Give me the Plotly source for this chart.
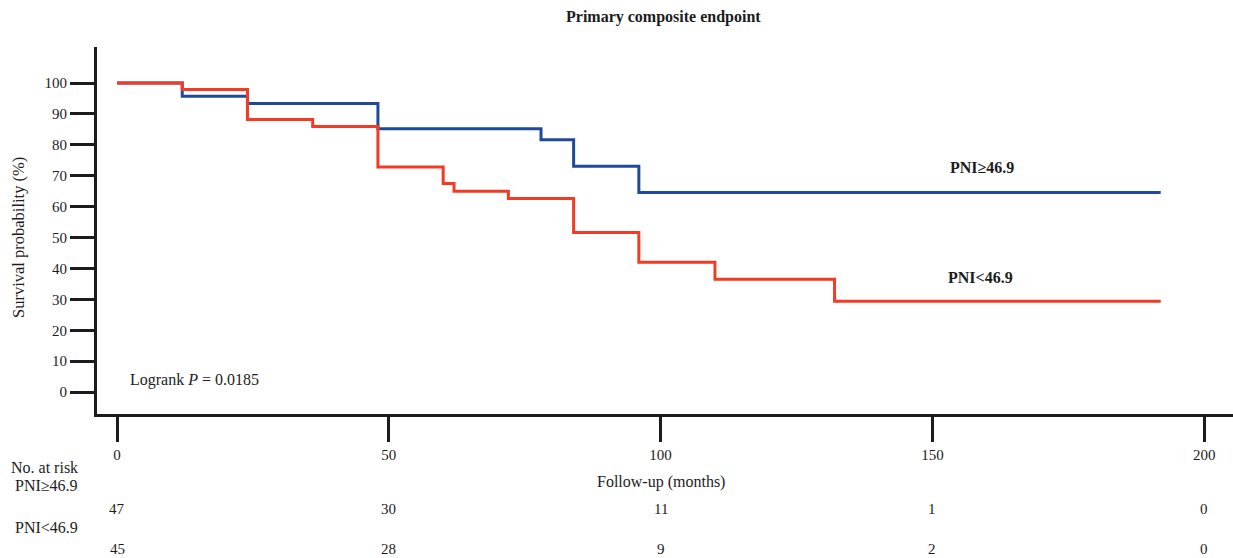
import plotly.graph_objects as go

# Kaplan-Meier step data (months, survival %)
high_t = [0, 12, 24, 48, 78, 84, 96, 192]
high_s = [100, 95.7, 93.4, 85.2, 81.6, 73.1, 64.6, 64.6]
low_t = [0, 12, 24, 36, 48, 60, 62, 72, 84, 96, 110, 132, 192]
low_s = [100, 97.9, 88.2, 85.9, 72.8, 67.5, 65.0, 62.6, 51.6, 42.0, 36.5, 29.4, 29.4]

x_ticks = [0, 50, 100, 150, 200]
y_ticks = [0, 10, 20, 30, 40, 50, 60, 70, 80, 90, 100]
risk_high = [47, 30, 11, 1, 0]
risk_low = [45, 28, 9, 2, 0]
group_labels = ["PNI≥46.9", "PNI<46.9"]

FONT = "Liberation Serif, Times New Roman, serif"
BLUE = "#1f4a9c"
RED = "#f23b24"
DARK = "#1c1c1c"

fig = go.Figure()
fig.add_trace(go.Scatter(x=high_t, y=high_s, mode="lines", line_shape="hv",
                         line=dict(color=BLUE, width=3), name=group_labels[0],
                         showlegend=False))
fig.add_trace(go.Scatter(x=low_t, y=low_s, mode="lines", line_shape="hv",
                         line=dict(color=RED, width=3), name=group_labels[1],
                         showlegend=False))

W, H = 1233, 558
L, R, T, B = 97, 0, 47, 144
plot_h = H - T - B

def py(pix):
    return (H - B - pix) / plot_h

def px(pix):
    return (pix - L) / (W - L - R)

TXT = dict(size=16, family=FONT, color=DARK)

ann = []
ann.append(dict(text="<b>Primary composite endpoint</b>", x=px(663), y=py(17),
                xref="paper", yref="paper", showarrow=False,
                font=TXT, xanchor="center", yanchor="middle"))
ann.append(dict(text="Survival probability (%)", x=px(18), y=py(238), textangle=-90,
                xref="paper", yref="paper", showarrow=False,
                font=dict(size=16.5, family=FONT, color=DARK), xanchor="center", yanchor="middle"))
ann.append(dict(text="Logrank <i>P</i> = 0.0185", x=2.0, y=3.9, xref="x", yref="y",
                showarrow=False, font=TXT, xanchor="left", yanchor="middle"))
ann.append(dict(text="<b>" + group_labels[0] + "</b>", x=159.2, y=72.5, xref="x", yref="y",
                showarrow=False, font=TXT, xanchor="center", yanchor="middle"))
ann.append(dict(text="<b>" + group_labels[1] + "</b>", x=158.8, y=37.2, xref="x", yref="y",
                showarrow=False, font=TXT, xanchor="center", yanchor="middle"))
ann.append(dict(text="Follow-up (months)", x=100, y=py(482), xref="x", yref="paper",
                showarrow=False, font=TXT, xanchor="center", yanchor="middle"))
ann.append(dict(text="No. at risk", x=px(80), y=py(467), xref="paper", yref="paper",
                showarrow=False, font=TXT, xanchor="right", yanchor="middle"))
ann.append(dict(text=group_labels[0], x=px(80), y=py(485), xref="paper", yref="paper",
                showarrow=False, font=TXT, xanchor="right", yanchor="middle"))
ann.append(dict(text=group_labels[1], x=px(80), y=py(527), xref="paper", yref="paper",
                showarrow=False, font=TXT, xanchor="right", yanchor="middle"))
for xv, a, b in zip(x_ticks, risk_high, risk_low):
    ann.append(dict(text=str(a), x=xv, y=py(509), xref="x", yref="paper", showarrow=False,
                    font=dict(size=15, family=FONT, color=DARK), xanchor="center", yanchor="middle"))
    ann.append(dict(text=str(b), x=xv, y=py(549), xref="x", yref="paper", showarrow=False,
                    font=dict(size=15, family=FONT, color=DARK), xanchor="center", yanchor="middle"))

fig.update_layout(
    width=W, height=H,
    margin=dict(l=L, r=R, t=T, b=B, pad=0),
    paper_bgcolor="white", plot_bgcolor="white",
    annotations=ann,
    font=dict(family=FONT, size=15, color=DARK),
)
fig.update_xaxes(range=[-3.68, 205.3], tickvals=x_ticks, ticks="outside", ticklen=25,
                 tickwidth=3, tickcolor=DARK, showline=True, linewidth=3, linecolor=DARK,
                 showgrid=False, zeroline=False, tickfont=dict(size=15, family=FONT, color=DARK))
fig.update_yaxes(range=[-7.1, 111.65], tickvals=y_ticks, ticks="outside", ticklen=24,
                 tickwidth=3, tickcolor=DARK, showline=True, linewidth=3, linecolor=DARK,
                 showgrid=False, zeroline=False, tickfont=dict(size=15, family=FONT, color=DARK))

fig.write_html(
    "out.html",
    config={"displayModeBar": False},
    post_script="document.body.style.margin='0';document.body.style.overflow='hidden';"
)
